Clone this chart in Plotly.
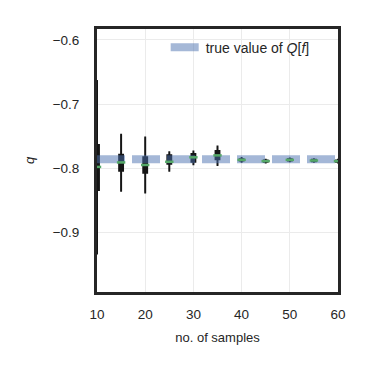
import plotly.graph_objects as go

# valeurs
n_samples = [10, 15, 20, 25, 30, 35, 40, 45, 50, 55, 60]
lower = [-0.933, -0.835, -0.838, -0.804, -0.794, -0.795, -0.790, -0.791, -0.789, -0.790, -0.791]
q1 = [-0.834, -0.804, -0.807, -0.793, -0.790, -0.786, -0.788, -0.790, -0.788, -0.789, -0.790]
median = [-0.798, -0.791, -0.795, -0.790, -0.783, -0.780, -0.787, -0.789, -0.787, -0.788, -0.789]
q3 = [-0.764, -0.779, -0.783, -0.780, -0.778, -0.773, -0.786, -0.788, -0.786, -0.787, -0.788]
upper = [-0.664, -0.748, -0.752, -0.775, -0.774, -0.766, -0.784, -0.787, -0.785, -0.786, -0.787]
true_value = -0.786

text_color = "#262626"
font = "Liberation Sans, Arial, sans-serif"

fig = go.Figure()

fig.add_trace(
    go.Box(
        x=n_samples,
        q1=q1,
        median=median,
        q3=q3,
        lowerfence=lower,
        upperfence=upper,
        width=0.8,
        whiskerwidth=0.5,
        line=dict(color="#151515", width=2),
        fillcolor="#151515",
        showlegend=False,
        hoverinfo="skip",
    )
)

# valeur vraie
fig.add_trace(
    go.Scatter(
        x=[n_samples[0], n_samples[-1]],
        y=[true_value, true_value],
        mode="lines",
        line=dict(color="#4C72B0", width=8, dash="28px,7px"),
        opacity=0.5,
        name="true value of <i>Q</i>[<i>f</i>]",
        hoverinfo="skip",
    )
)

# medianes en vert, par-dessus la bande
fig.add_trace(
    go.Scatter(
        x=n_samples,
        y=median,
        mode="markers",
        marker=dict(symbol="line-ew", size=6, line=dict(color="#55A868", width=2.5)),
        showlegend=False,
        hoverinfo="skip",
    )
)

# la page html ajoute une marge de 8px (body) -> figure de 365px
fig.update_layout(
    width=365,
    height=365,
    margin=dict(l=89, r=35, t=21, b=81),
    plot_bgcolor="white",
    paper_bgcolor="white",
    font=dict(family=font, size=13, color=text_color),
    showlegend=True,
    legend=dict(
        x=0.285,
        y=0.99,
        xanchor="left",
        yanchor="top",
        bgcolor="rgba(0,0,0,0)",
        font=dict(size=14, color=text_color),
    ),
    xaxis=dict(
        range=[10, 60],
        tickvals=[10, 20, 30, 40, 50, 60],
        showgrid=True,
        gridcolor="#ebebeb",
        gridwidth=1,
        zeroline=False,
        showline=True,
        linecolor=text_color,
        linewidth=3,
        mirror=True,
        ticks="",
        ticklabelstandoff=8,
        tickfont=dict(size=13.5),
        title=dict(text="no. of samples", font=dict(size=13), standoff=12),
    ),
    yaxis=dict(
        range=[-0.993, -0.583],
        tickvals=[-0.9, -0.8, -0.7, -0.6],
        tickformat=".1f",
        showgrid=True,
        gridcolor="#ebebeb",
        gridwidth=1,
        zeroline=False,
        showline=True,
        linecolor=text_color,
        linewidth=3,
        mirror=True,
        ticks="",
        ticklabelstandoff=12,
        tickfont=dict(size=13.5),
        title=dict(text="<i>q</i>", font=dict(size=13), standoff=16),
    ),
)

fig.write_html("out.html")
